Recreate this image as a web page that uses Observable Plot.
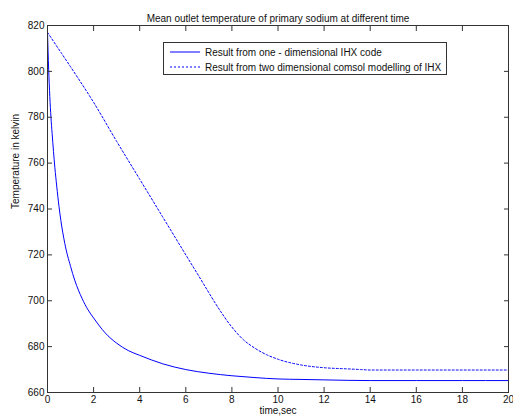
<!DOCTYPE html>
<html>
<head>
<meta charset="utf-8">
<script src="https://cdn.jsdelivr.net/npm/d3@7"></script>
<script src="https://cdn.jsdelivr.net/npm/@observablehq/plot@0.6"></script>
<style>
  html, body { margin: 0; padding: 0; background: #fff; }
  #wrap { position: relative; width: 513px; height: 419px; font-family: Arial, "Liberation Sans", sans-serif; }
  #legend { position: absolute; left: 163px; top: 42px; width: 282px; height: 31px; border: 1px solid #333; background: #fff; font-size: 10px; color: #111; }
  #legend .row { position: absolute; left: 6px; height: 14px; display: flex; align-items: center; white-space: nowrap; }
  #legend svg { margin-right: 5px; }
</style>
</head>
<body>
<div id="wrap"></div>
<script>
const title = "Mean outlet temperature of primary sodium at different time";
const xLabel = "time,sec";
const yLabel = "Temperature in kelvin";
const seriesNames = ["Result from one - dimensional IHX code", "Result from two dimensional comsol modelling of IHX"];

const xTicks = [0, 2, 4, 6, 8, 10, 12, 14, 16, 18, 20];
const yTicks = [660, 680, 700, 720, 740, 760, 780, 800, 820];

// Solid: one-dimensional IHX code
const tOne = [0, 0.05, 0.1, 0.15, 0.2, 0.32, 0.4, 0.5, 0.58, 0.75, 1.0, 1.18, 1.5, 1.76, 2.0, 2.5, 3.0, 3.5, 4.0, 5.0, 6.0, 7.0, 8.0, 9.0, 10.0, 11.0, 12.0, 13.0, 14.0, 16.0, 18.0, 20.0];
const vOne = [817, 801, 789, 780, 773, 758, 750, 741, 735, 725, 715, 709, 701, 696, 692.5, 686, 681.5, 678.3, 676.2, 672.5, 670, 668.4, 667.3, 666.5, 665.9, 665.7, 665.5, 665.3, 665.2, 665.2, 665.2, 665.2];

// Dashed: two-dimensional comsol modelling
const tTwo = [0, 0.6, 1, 2, 3, 4, 5, 6, 6.67, 7, 7.5, 8, 8.5, 9, 9.5, 10, 11, 12, 13, 13.6, 14, 16, 18, 20];
const vTwo = [817, 808, 802, 786.5, 769.5, 753, 736.5, 720, 709, 703.5, 695.5, 688.5, 683, 679.3, 676.5, 674.5, 672, 670.8, 670.3, 670, 669.8, 669.8, 669.8, 669.8];

const one = tOne.map((t, i) => ({t, v: vOne[i]}));
const two = tTwo.map((t, i) => ({t, v: vTwo[i]}));

const axisColor = "#333";
const chart = Plot.plot({
  width: 513,
  height: 419,
  marginLeft: 47,
  marginRight: 5,
  marginTop: 25,
  marginBottom: 27,
  style: {fontFamily: "Arial, 'Liberation Sans', sans-serif", fontSize: "10px", color: "#111", background: "#fff"},
  x: {domain: [0, 20]},
  y: {domain: [660, 820]},
  marks: [
    Plot.line(two, {x: "t", y: "v", stroke: "#0000ff", strokeWidth: 1, strokeDasharray: "2,2", curve: "monotone-x"}),
    Plot.line(one, {x: "t", y: "v", stroke: "#0000ff", strokeWidth: 1, curve: "monotone-x"}),
    Plot.frame({stroke: axisColor}),
    Plot.axisX(xTicks, {anchor: "bottom", tickSize: -5, tickPadding: 8, label: null, stroke: axisColor, tickFormat: d => d}),
    Plot.axisX(xTicks, {anchor: "top", tickSize: -5, label: null, stroke: axisColor, tickFormat: () => ""}),
    Plot.axisY(yTicks, {anchor: "left", tickSize: -5, tickPadding: 8, label: null, stroke: axisColor, tickFormat: d => d}),
    Plot.axisY(yTicks, {anchor: "right", tickSize: -5, label: null, stroke: axisColor, tickFormat: () => ""}),
    Plot.text([title], {frameAnchor: "top", dy: -11, fill: "#111"}),
    Plot.text([xLabel], {frameAnchor: "bottom", dy: 21, fill: "#111"}),
    Plot.text([yLabel], {frameAnchor: "left", dx: -32, rotate: -90, fill: "#111"})
  ]
});
const wrap = document.getElementById("wrap");
wrap.appendChild(chart);

const legend = document.createElement("div");
legend.id = "legend";
const dashes = [null, "2,2"];
seriesNames.forEach((name, i) => {
  const row = document.createElement("div");
  row.className = "row";
  row.style.top = (2 + i * 15) + "px";
  row.innerHTML = `<svg width="30" height="4"><line x1="0" x2="30" y1="2" y2="2" stroke="#0000ff" stroke-width="1" ${dashes[i] ? `stroke-dasharray="${dashes[i]}"` : ""}/></svg><span></span>`;
  row.querySelector("span").textContent = name;
  legend.appendChild(row);
});
wrap.appendChild(legend);
</script>
</body>
</html>
